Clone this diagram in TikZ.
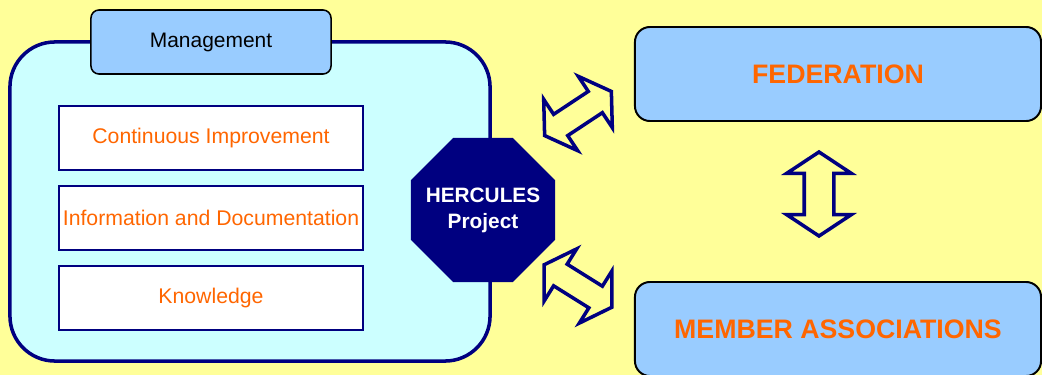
\documentclass[tikz,border=0pt]{standalone}
\usepackage{fontspec}
\setmainfont{Liberation Sans}
\usepackage{xcolor}
\usetikzlibrary{arrows,positioning,shapes.geometric,shapes.arrows}
\definecolor{navy}{HTML}{000080}
\definecolor{bgyel}{HTML}{FFFF99}
\definecolor{cyanfill}{HTML}{CCFFFF}
\definecolor{skyblue}{HTML}{99CCFF}
\definecolor{orng}{HTML}{FF6600}
\tikzset{
  topicbox/.style={rectangle,draw=navy,line width=1.3pt,fill=white,minimum width=7.6cm,minimum height=1.6cm,inner sep=0pt,text=orng,font=\fontsize{15.1}{18}\selectfont},
  partybox/.style={rectangle,rounded corners=0.375cm,draw=black,line width=1.4pt,fill=skyblue,minimum width=10.15cm,minimum height=2.35cm,inner sep=0pt,text=orng,font=\bfseries\fontsize{19}{22}\selectfont},
  linkarrow/.style={double arrow,draw=navy,fill=bgyel,line width=2.5pt,inner xsep=0pt,inner ysep=0.275cm,double arrow head extend=0.45cm,double arrow tip angle=116,minimum height=2cm}
}
\begin{document}
\begin{tikzpicture}[x=0.025cm,y=-0.025cm]
\fill[bgyel] (0,0) rectangle (1042,375);
\useasboundingbox (0,0) rectangle (1042,375);
\node[rectangle,rounded corners=1.125cm,draw=navy,line width=2.5pt,fill=cyanfill,minimum width=12cm,minimum height=7.975cm] (mb) at (250,201.5){};
\node[rectangle,rounded corners=0.2cm,draw=black,line width=1.1pt,fill=skyblue,minimum width=6cm,minimum height=1.6cm,font=\fontsize{14.9}{18}\selectfont] (mg) at (211,42){Management};
  \node[topicbox] (ci) at (211,138){Continuous Improvement};
  \node[topicbox] (id) at (211,218){Information and Documentation};
  \node[topicbox] (kn) at (211,298){Knowledge};
\node[regular polygon,regular polygon sides=8,fill=navy,minimum size=3.9cm,inner sep=0pt,
  label={[text=white,align=center,font=\bfseries\fontsize{14.8}{18.4}\selectfont]center:HERCULES\\Project}] (hp) at (483,210){};
\node[partybox] (fe) at (838,74){FEDERATION};
\node[partybox] (ma) at (838,329){MEMBER ASSOCIATIONS};
   \node[linkarrow,rotate=33.5] (a1) at (578,113.5){};
   \node[linkarrow,rotate=-32] (a2) at (578,286){};
   \node[linkarrow,rotate=90,inner ysep=0.325cm,double arrow head extend=0.44cm,double arrow tip angle=113,minimum height=2.1cm] (a3) at (819,194){};
\end{tikzpicture}
\end{document}
